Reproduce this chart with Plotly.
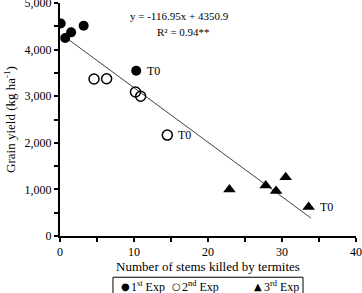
import plotly.graph_objects as go

# Data
exp1_x = [0.1, 0.7, 1.5, 3.2, 10.3]
exp1_y = [4560, 4250, 4370, 4510, 3545]
exp2_x = [4.6, 6.3, 10.2, 10.9, 14.5]
exp2_y = [3370, 3375, 3090, 3000, 2165]
exp3_x = [22.9, 27.8, 29.2, 30.5, 33.6]
exp3_y = [1000, 1085, 965, 1260, 620]
fit_slope = -116.95
fit_intercept = 4350.9
fit_x = [0.5, 33.9]
t0_x = [10.3, 14.5, 33.6]
t0_y = [3545, 2165, 620]
legend_labels = ["1<sup>st</sup> Exp", "2<sup>nd</sup> Exp", "3<sup>rd</sup> Exp"]
legend_glyphs = ["●", "○", "▲"]
y_ticks = [0, 1000, 2000, 3000, 4000, 5000]
y_ticktext = ["0", "1,000", "2,000", "3,000", "4,000", "5,000"]

FONT = "Liberation Serif"

fig = go.Figure()
fig.add_trace(go.Scatter(x=fit_x, y=[fit_slope * v + fit_intercept for v in fit_x],
                         mode="lines", line=dict(color="#404040", width=1),
                         showlegend=False, hoverinfo="skip"))
fig.add_trace(go.Scatter(x=exp1_x, y=exp1_y, mode="markers", name=legend_labels[0],
                         marker=dict(symbol="circle", size=10, color="black")))
fig.add_trace(go.Scatter(x=exp2_x, y=exp2_y, mode="markers", name=legend_labels[1],
                         marker=dict(symbol="circle-open", size=10, color="black",
                                     line=dict(width=1.5, color="black"))))
fig.add_trace(go.Scatter(x=exp3_x, y=exp3_y, mode="markers", name=legend_labels[2],
                         marker=dict(symbol="triangle-up", size=11, color="black")))

for tx, ty in zip(t0_x, t0_y):
    fig.add_annotation(x=tx, y=ty, text="T0", showarrow=False, xanchor="left",
                       xshift=9, font=dict(family=FONT, size=12, color="black"))

fig.add_annotation(x=0.23, y=0.943, xref="paper", yref="paper", showarrow=False,
                   text="y = -116.95x + 4350.9", xanchor="left", yanchor="middle",
                   font=dict(family=FONT, size=11, color="black"))
fig.add_annotation(x=0.321, y=0.875, xref="paper", yref="paper", showarrow=False,
                   text="R² = 0.94**", xanchor="left", yanchor="middle",
                   font=dict(family=FONT, size=11, color="black"))

# manual legend box (compact, as in the reference)
fig.add_shape(type="rect", xref="paper", yref="paper", x0=0.179, x1=0.821,
              y0=-0.27, y1=-0.177, line=dict(color="black", width=1))
leg_x = [0.2196, 0.394, 0.669]
for gx, glyph, lab in zip(leg_x, legend_glyphs, legend_labels):
    fig.add_annotation(x=gx, y=-0.218, xref="paper", yref="paper", showarrow=False,
                       text=glyph, xanchor="center", yanchor="middle",
                       font=dict(family="DejaVu Sans", size=10, color="black"))
    fig.add_annotation(x=gx + 0.012, y=-0.218, xref="paper", yref="paper", showarrow=False,
                       text=lab, xanchor="left", yanchor="middle",
                       font=dict(family=FONT, size=12, color="black"))

fig.update_xaxes(range=[0, 40], dtick=10,
                 showline=True, linecolor="black", linewidth=2, showgrid=False,
                 zeroline=False, ticks="outside", ticklen=4, tickcolor="black",
                 tickwidth=1.5, tickfont=dict(family=FONT, size=12, color="black"),
                 minor=dict(ticks="outside", ticklen=4, tickcolor="black", tickwidth=1.5,
                            dtick=5),
                 title=dict(text="Number of stems killed by termites", standoff=0,
                            font=dict(family=FONT, size=13, color="black")))
fig.update_yaxes(range=[0, 5000], tickvals=y_ticks, ticktext=y_ticktext,
                 ticklabeloverflow="allow",
                 showline=True, linecolor="black", linewidth=2, showgrid=False,
                 zeroline=False, ticks="outside", ticklen=4, tickcolor="black",
                 tickwidth=1.5, tickfont=dict(family=FONT, size=12, color="black"),
                 minor=dict(ticks="outside", ticklen=4, tickcolor="black", tickwidth=1.5,
                            tickvals=[500, 1500, 2500, 3500, 4500]),
                 title=dict(text="Grain yield (kg ha<sup>-1</sup>)", standoff=6,
                            font=dict(family=FONT, size=13, color="black")))

fig.update_layout(
    width=362, height=293,
    margin=dict(l=60, r=6, t=3, b=57, autoexpand=False),
    paper_bgcolor="white", plot_bgcolor="white",
    showlegend=False,
    font=dict(family=FONT, color="black"),
)

fig.write_html("out.html")
